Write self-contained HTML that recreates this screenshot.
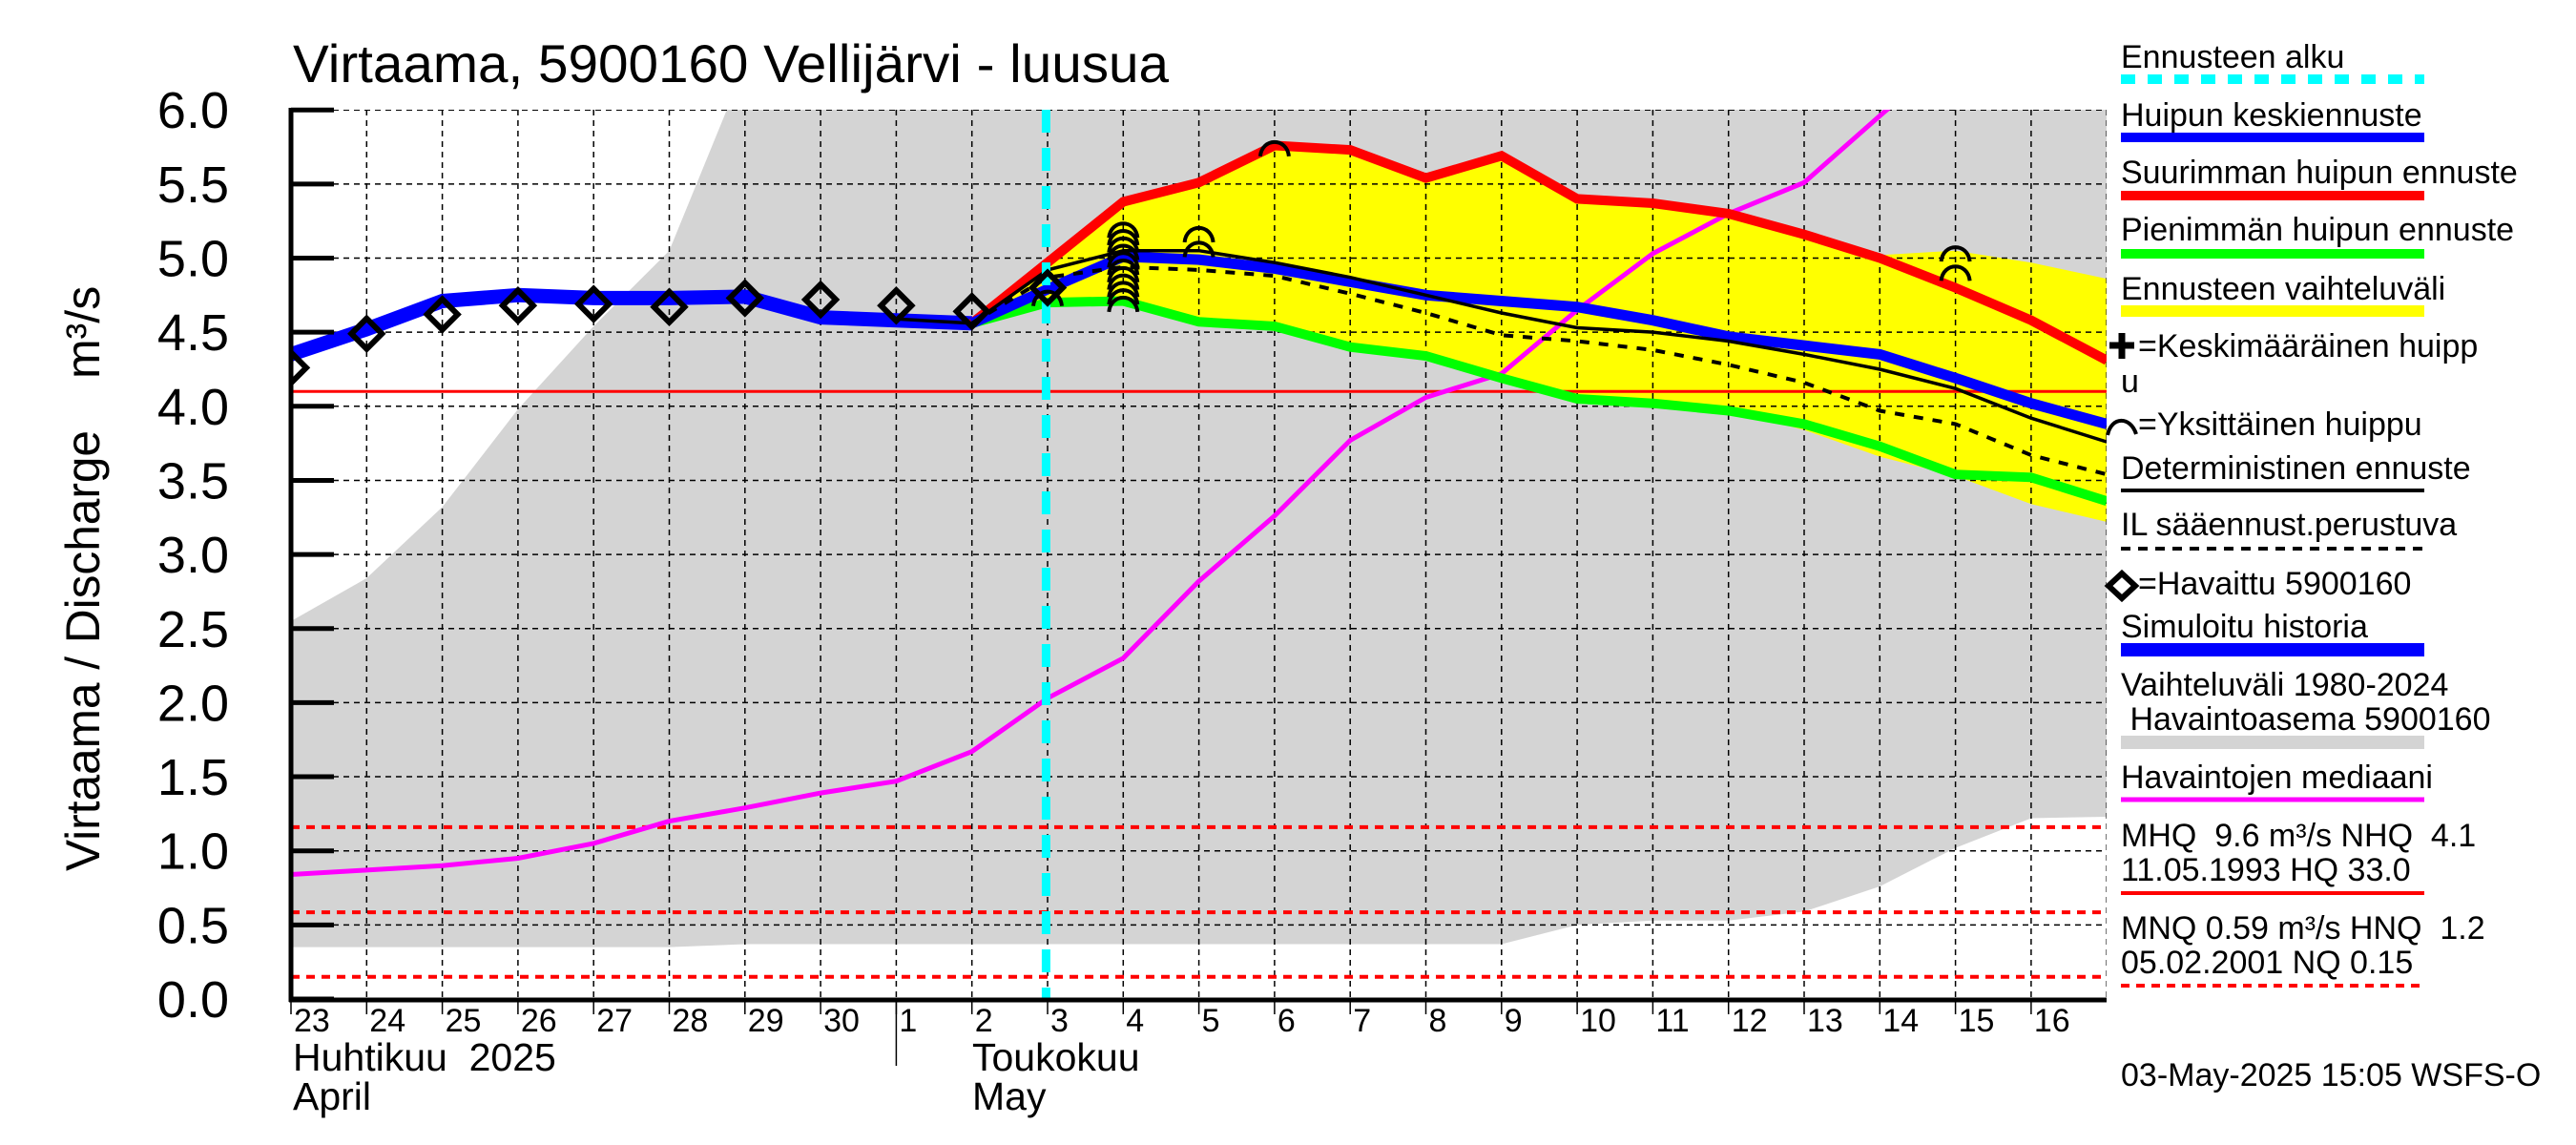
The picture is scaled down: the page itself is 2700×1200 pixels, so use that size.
<!DOCTYPE html>
<html><head><meta charset="utf-8"><style>
html,body{margin:0;padding:0;background:#fff;}
svg{display:block;font-family:"Liberation Sans",sans-serif;}
</style></head><body>
<svg id="chart" width="2700" height="1200" viewBox="0 0 2700 1200" xmlns="http://www.w3.org/2000/svg">
<defs><clipPath id="pc"><rect x="305" y="115" width="1903" height="933"/></clipPath></defs>
<rect width="2700" height="1200" fill="#fff"/>
<g id="plot" clip-path="url(#pc)"></g>
<g id="axes"></g>
<text x="307" y="86" font-size="56" textLength="918" lengthAdjust="spacingAndGlyphs">Virtaama, 5900160 Vellijärvi - luusua</text>
<text transform="translate(104,913) rotate(-90)" font-size="50" textLength="462" lengthAdjust="spacingAndGlyphs">Virtaama / Discharge</text>
<text transform="translate(104,397) rotate(-90)" font-size="50">m³/s</text>
<g id="legend" font-size="34"></g>
</svg>
<script>
const days = ["23","24","25","26","27","28","29","30","1","2","3","4","5","6","7","8","9","10","11","12","13","14","15","16"];
const yTicks = [0,0.5,1,1.5,2,2.5,3,3.5,4,4.5,5,5.5,6];
const yTickLabels = ["0.0","0.5","1.0","1.5","2.0","2.5","3.0","3.5","4.0","4.5","5.0","5.5","6.0"];
const observed = [4.26,4.49,4.62,4.68,4.69,4.67,4.73,4.72,4.68,4.64,4.80];
const simHistory = [4.35,4.52,4.71,4.75,4.73,4.73,4.74,4.60,4.58,4.56];
const fcStart = 9;
const fcMax = [4.56,4.97,5.38,5.51,5.76,5.73,5.54,5.69,5.40,5.37,5.30,5.16,5.00,4.80,4.58,4.31];
const fcMean = [4.56,4.79,5.01,4.99,4.93,4.84,4.75,4.71,4.67,4.58,4.47,4.41,4.35,4.19,4.02,3.88];
const fcMin = [4.56,4.70,4.71,4.57,4.54,4.40,4.34,4.19,4.05,4.02,3.97,3.88,3.73,3.54,3.52,3.36];
const detStart = 8;
const deterministic = [4.59,4.56,4.92,5.05,5.05,4.97,4.87,4.75,4.63,4.53,4.50,4.44,4.35,4.25,4.12,3.92,3.76];
const ilForecast = [4.56,4.87,4.94,4.92,4.88,4.76,4.63,4.48,4.44,4.38,4.28,4.16,3.97,3.88,3.67,3.54];
const bandUpper = [4.56,4.97,5.38,5.51,5.76,5.73,5.54,5.69,5.40,5.37,5.30,5.16,5.02,5.05,4.97,4.86];
const bandLower = [4.56,4.70,4.71,4.57,4.54,4.40,4.34,4.19,4.05,4.02,3.97,3.84,3.66,3.53,3.34,3.22];
const median = [0.84,0.87,0.90,0.95,1.05,1.20,1.29,1.39,1.47,1.67,2.03,2.30,2.82,3.26,3.77,4.06,4.22,4.65,5.03,5.30,5.51,5.96,6.40];
const histUpper = [2.55,2.84,3.32,3.98,4.54,5.05,6.30,6.5,6.5,6.5,6.5,6.5,6.5,6.5,6.5,6.5,6.5,6.5,6.5,6.5,6.5,6.5,6.5,6.5,6.5];
const histLower = [0.35,0.35,0.35,0.35,0.35,0.35,0.37,0.37,0.37,0.37,0.37,0.37,0.37,0.37,0.37,0.37,0.37,0.50,0.53,0.53,0.59,0.76,1.02,1.22,1.23];
const peakIdx = [10,11,11,11,11,11,11,11,11,11,11,11,12,12,13,22,22];
const peakVal = [4.78,4.74,4.79,4.84,4.89,4.94,4.99,5.04,5.09,5.14,5.19,5.24,5.21,5.11,5.79,5.08,4.95];
const refLevels = [4.10];
const refDotted = [1.16,0.585,0.15];
const forecastStartIdx = 9.98;

const NS="http://www.w3.org/2000/svg";
const X = i => 305 + i*79.3;
const Y = v => 1047 - v*155.3;
function mk(parent,tag,attrs,text){const e=document.createElementNS(NS,tag);for(const k in attrs)e.setAttribute(k,attrs[k]);if(text!==undefined)e.textContent=text;parent.appendChild(e);return e;}
const plot=document.getElementById('plot'), axes=document.getElementById('axes'), leg=document.getElementById('legend');
function pts(arr,start){return arr.map((v,k)=>X(start+k).toFixed(1)+","+Y(v).toFixed(1)).join(" ");}

let hp = pts(histUpper,0)+" "+histLower.map((v,k)=>[X(k),Y(v)]).reverse().map(p=>p[0].toFixed(1)+","+p[1].toFixed(1)).join(" ");
let e=mk(plot,'polygon',{points:hp,fill:'#d4d4d4'});


let bp = pts(bandUpper,fcStart)+" "+bandLower.map((v,k)=>[X(fcStart+k),Y(v)]).reverse().map(p=>p[0].toFixed(1)+","+p[1].toFixed(1)).join(" ");
e=mk(plot,'polygon',{points:bp,fill:'#ffff00'});


for(let k=0;k<=days.length;k++){e=mk(plot,'line',{x1:X(k),x2:X(k),y1:115,y2:1047,stroke:'#000','stroke-width':1.5,'stroke-dasharray':'6,5'});

}
yTicks.forEach(v=>{e=mk(plot,'line',{x1:305,x2:2208,y1:Y(v),y2:Y(v),stroke:'#000','stroke-width':1.5,'stroke-dasharray':'6,5'});

});
refLevels.forEach(v=>{e=mk(plot,'line',{x1:305,x2:2208,y1:Y(v),y2:Y(v),stroke:'#ff0000','stroke-width':3});

});
refDotted.forEach(v=>{e=mk(plot,'line',{x1:305,x2:2208,y1:Y(v),y2:Y(v),stroke:'#ff0000','stroke-width':4,'stroke-dasharray':'9,7'});

});
e=mk(plot,'polyline',{points:pts(median,0),fill:'none',stroke:'#ff00ff','stroke-width':5});


e=mk(plot,'polyline',{points:pts(simHistory,0),fill:'none',stroke:'#0000ff','stroke-width':15,'stroke-linejoin':'round'});


e=mk(plot,'polyline',{points:pts(fcMin,fcStart),fill:'none',stroke:'#00ff00','stroke-width':10});


e=mk(plot,'polyline',{points:pts(fcMax,fcStart),fill:'none',stroke:'#ff0000','stroke-width':10});


e=mk(plot,'polyline',{points:pts(fcMean,fcStart),fill:'none',stroke:'#0000ff','stroke-width':11});


e=mk(plot,'polyline',{points:pts(deterministic,detStart),fill:'none',stroke:'#000','stroke-width':3.5});


e=mk(plot,'polyline',{points:pts(ilForecast,fcStart),fill:'none',stroke:'#000','stroke-width':4,'stroke-dasharray':'10,10'});


e=mk(plot,'line',{x1:X(forecastStartIdx),x2:X(forecastStartIdx),y1:115,y2:1047,stroke:'#00ffff','stroke-width':9,'stroke-dasharray':'24,16'});


peakIdx.forEach((i,k)=>{const cx=X(i),cy=Y(peakVal[k]);
e=mk(plot,'path',{d:`M${cx-15},${cy+16} C${cx-13},${cy-4} ${cx+13},${cy-4} ${cx+15},${cy+16}`,fill:'none',stroke:'#000','stroke-width':4});

});
observed.forEach((v,i)=>{const cx=X(i),cy=Y(v);
e=mk(plot,'polygon',{points:`${cx},${cy-16} ${cx+16},${cy} ${cx},${cy+16} ${cx-16},${cy}`,fill:'none',stroke:'#000','stroke-width':6});

});

e=mk(axes,'line',{x1:305,x2:305,y1:113,y2:1050,stroke:'#000','stroke-width':5});


e=mk(axes,'line',{x1:303,x2:2208,y1:1048,y2:1048,stroke:'#000','stroke-width':5});


yTicks.forEach((v,k)=>{
e=mk(axes,'line',{x1:305,x2:350,y1:Y(v),y2:Y(v),stroke:'#000','stroke-width':5});


e=mk(axes,'text',{x:240,y:Y(v)+19,'font-size':54,'text-anchor':'end'},yTickLabels[k]);

});
days.forEach((d,k)=>{
e=mk(axes,'line',{x1:X(k),x2:X(k),y1:1048,y2:1063,stroke:'#000','stroke-width':1.5});


e=mk(axes,'text',{x:X(k)+3,y:1081,'font-size':34},d);

});
e=mk(axes,'line',{x1:X(8),x2:X(8),y1:1048,y2:1117,stroke:'#000','stroke-width':1.5});


[["Huhtikuu\u00a0\u00a02025",307,1122],["April",307,1163],["Toukokuu",1019,1122],["May",1019,1163]].forEach(t=>{
e=mk(axes,'text',{x:t[1],y:t[2],'font-size':41},t[0]);

});

const LX=2223, LX2=2541;
function ltext(t,y,x){e=mk(leg,'text',{x:x||LX,y:y},t.replace(/ (?= )|^ /g,'\u00a0'));

}
function lline(y,attrs){e=mk(leg,'line',Object.assign({x1:LX,x2:LX2,y1:y,y2:y},attrs));

}
ltext("Ennusteen alku",71); lline(83,{stroke:'#00ffff','stroke-width':10,'stroke-dasharray':'15,13'});
ltext("Huipun keskiennuste",132); lline(144,{stroke:'#0000ff','stroke-width':10});
ltext("Suurimman huipun ennuste",192); lline(205,{stroke:'#ff0000','stroke-width':10});
ltext("Pienimmän huipun ennuste",252); lline(266,{stroke:'#00ff00','stroke-width':10});
ltext("Ennusteen vaihteluväli",314); lline(326,{stroke:'#ffff00','stroke-width':12});
e=mk(leg,'path',{d:'M2211,362 h26 M2224,349 v27',stroke:'#000','stroke-width':7});


ltext("=Keskimääräinen huipp",374,2241); ltext("u",411);
e=mk(leg,'path',{d:'M2209,456 C2213,436 2233,436 2239,455',fill:'none',stroke:'#000','stroke-width':4});


ltext("=Yksittäinen huippu",456,2241);
ltext("Deterministinen ennuste",502); lline(514,{stroke:'#000','stroke-width':4});
ltext("IL sääennust.perustuva",561); lline(575,{stroke:'#000','stroke-width':4,'stroke-dasharray':'10,8'});
e=mk(leg,'polygon',{points:'2224,601 2238,614 2224,627 2210,614',fill:'none',stroke:'#000','stroke-width':6});


ltext("=Havaittu 5900160",623,2241);
ltext("Simuloitu historia",668); lline(681,{stroke:'#0000ff','stroke-width':14});
ltext("Vaihteluväli 1980-2024",729); ltext(" Havaintoasema 5900160",765); lline(778,{stroke:'#d4d4d4','stroke-width':14});
ltext("Havaintojen mediaani",826); lline(838,{stroke:'#ff00ff','stroke-width':5});
ltext("MHQ  9.6 m³/s NHQ  4.1",887); ltext("11.05.1993 HQ 33.0",923); lline(936,{stroke:'#ff0000','stroke-width':4});
ltext("MNQ 0.59 m³/s HNQ  1.2",984); ltext("05.02.2001 NQ 0.15",1020); lline(1033,{stroke:'#ff0000','stroke-width':4,'stroke-dasharray':'9,7'});
ltext("03-May-2025 15:05 WSFS-O",1138);
</script>
</body></html>
